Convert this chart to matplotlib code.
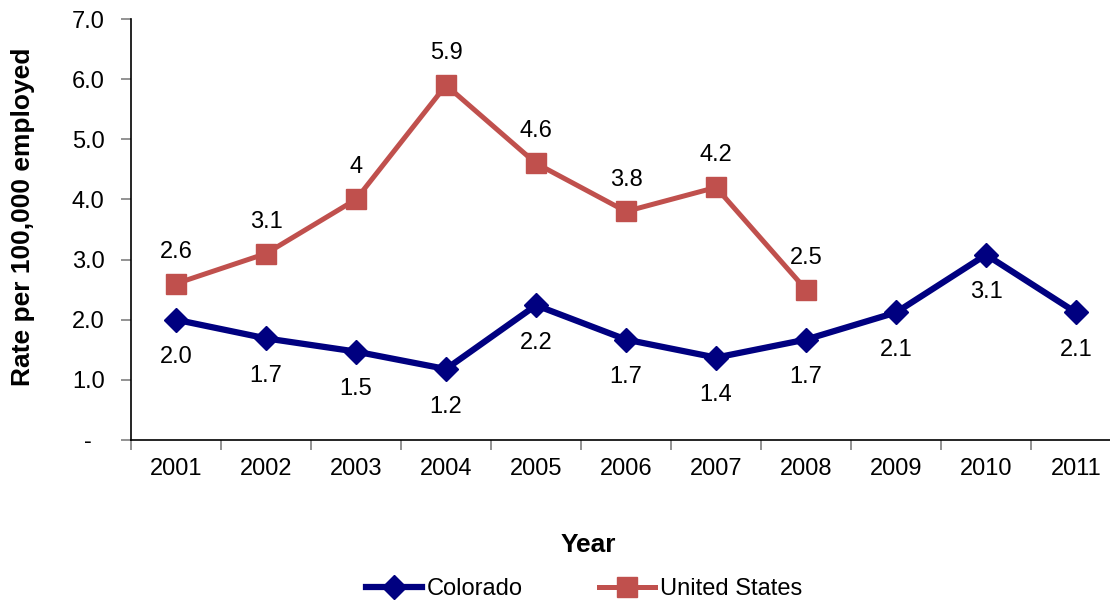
import matplotlib
matplotlib.use("Agg")
import matplotlib.pyplot as plt
from matplotlib.ticker import FixedLocator, NullFormatter, FixedFormatter

plt.rcParams['font.family'] = ['Liberation Sans', 'DejaVu Sans']

years = ["2001", "2002", "2003", "2004", "2005", "2006",
         "2007", "2008", "2009", "2010", "2011"]
colorado = [2.0, 1.69, 1.47, 1.18, 2.24, 1.67, 1.37, 1.67, 2.12, 3.08, 2.12]
united_states = [2.6, 3.1, 4.0, 5.9, 4.6, 3.8, 4.2, 2.5]
y_ticks = [0, 1, 2, 3, 4, 5, 6, 7]
y_tick_labels = ["-  ", "1.0", "2.0", "3.0", "4.0", "5.0", "6.0", "7.0"]

CO_COLOR = "#000080"
US_COLOR = "#C0504D"

W, H = 1110, 600
fig = plt.figure(figsize=(W / 100, H / 100), dpi=100)
ax = fig.add_axes([131 / W, 160 / H, (1121 - 131) / W, 421 / H])

x_co = list(range(len(colorado)))
x_us = list(range(len(united_states)))

ax.plot(x_co, colorado, color=CO_COLOR, lw=4.5, marker="D", ms=12,
        mec=CO_COLOR, mfc=CO_COLOR, label="Colorado", zorder=3)
ax.plot(x_us, united_states, color=US_COLOR, lw=3.6, marker="s", ms=14,
        mec=US_COLOR, mfc=US_COLOR, label="United States", zorder=3)

for xi, v in zip(x_co, colorado):
    ax.annotate(f"{v:.1f}", (xi, v), xytext=(0, -27), textcoords="offset points",
                ha="center", va="center", fontsize=17, color="black")
for xi, v in zip(x_us, united_states):
    ax.annotate(f"{v:g}", (xi, v), xytext=(0, 23), textcoords="offset points",
                ha="center", va="center", fontsize=17, color="black")

ax.set_xlim(-0.5, len(years) - 0.5)
ax.set_ylim(0, 7)

# category boundaries carry the tick marks, centers carry the labels
ax.xaxis.set_major_locator(FixedLocator([i - 0.5 for i in range(len(years) + 1)]))
ax.xaxis.set_major_formatter(NullFormatter())
ax.xaxis.set_minor_locator(FixedLocator(list(range(len(years)))))
ax.xaxis.set_minor_formatter(FixedFormatter(years))
ax.tick_params(axis="x", which="major", direction="out", length=7, width=1.2,
               color="#808080")
ax.tick_params(axis="x", which="minor", length=0, pad=13, labelsize=17)

ax.set_yticks(y_ticks)
ax.set_yticklabels(y_tick_labels)
ax.tick_params(axis="y", direction="out", length=7, width=1.2, color="#808080",
               pad=12, labelsize=17)

for side in ("top", "right"):
    ax.spines[side].set_visible(False)
for side in ("left", "bottom"):
    ax.spines[side].set_color("black")
    ax.spines[side].set_linewidth(1.2)

fig.text(23 / W, 1 - 217 / H, "Rate per 100,000 employed", rotation=90,
         ha="center", va="center", fontsize=19, fontweight="bold")
fig.text(588 / W, 1 - 545 / H, "Year", ha="center", va="center",
         fontsize=19, fontweight="bold")

handles, labels = ax.get_legend_handles_labels()
fig.legend(handles, labels, loc="center", bbox_to_anchor=(584 / W, 1 - 589 / H),
           ncol=2, frameon=False, fontsize=17, handlelength=2.4,
           handletextpad=0.2, columnspacing=3.2, borderpad=0)

fig.savefig("out.png", dpi=100)
